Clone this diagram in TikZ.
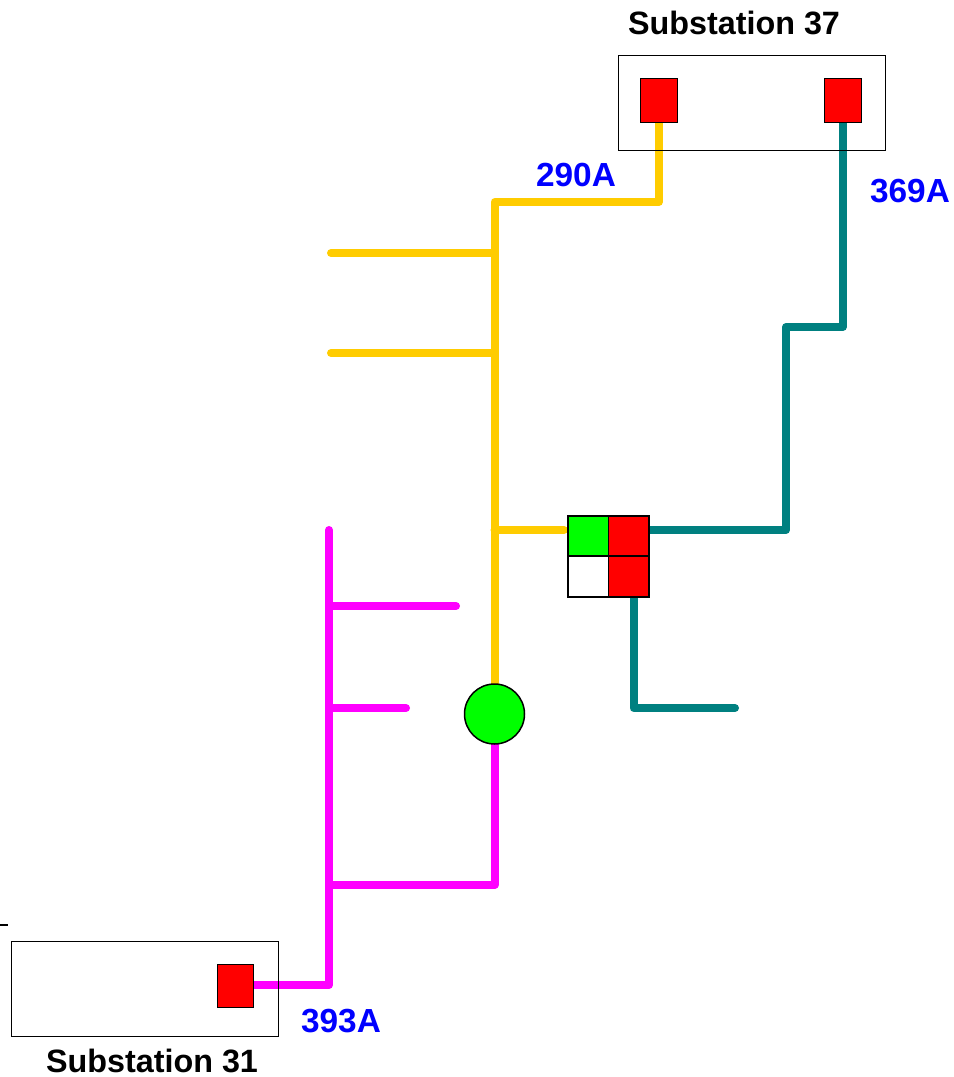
\documentclass[tikz,border=0pt]{standalone}
\usepackage{fontspec}
\setmainfont{Liberation Sans}
\usetikzlibrary{backgrounds}
\definecolor{feederyellow}{HTML}{FFCC00}
\definecolor{feederteal}{HTML}{008080}
\definecolor{feedermagenta}{HTML}{FF00FF}
\definecolor{swgreen}{HTML}{00FF00}
\definecolor{swred}{HTML}{FF0000}
\definecolor{amplabel}{HTML}{0000FF}
\tikzset{
	feeder/.style={line width=0.16cm, line cap=round, line join=round},
	station/.style={draw, line width=0.02cm, minimum width=5.35cm, minimum height=1.91cm, inner sep=0pt},
	breaker/.style={draw, line width=0.02cm, fill=swred, minimum width=0.73cm, minimum height=0.87cm, inner sep=0pt},
	cell/.style={draw, line width=0.03cm, minimum size=0.81cm, inner sep=0pt},
	title/.style={font=\fontsize{18.4}{20}\selectfont\bfseries},
	amps/.style={font=\fontsize{19}{20}\selectfont\bfseries, text=amplabel}
}
\begin{document}
\begin{tikzpicture}[x=0.02cm, y=-0.02cm]
	\useasboundingbox (0, 0) rectangle (953, 1077);

	\node[breaker] (b1) at (658.75, 100.5) {};
	\node[breaker] (b2) at (842.75, 100.5) {};
	\node[breaker] (b3) at (235.5, 986) {};
	\node[cell, fill=swgreen] (c1) at (588, 536) {};
	\node[cell, fill=swred] (c2) at (628.75, 536) {};
	\node[cell, fill=white] (c3) at (588, 576.5) {};
	\node[cell, fill=swred] (c4) at (628.75, 576.5) {};
	\node[circle, draw, line width=0.03cm, fill=swgreen, minimum size=1.2cm, inner sep=0pt] (tie) at (494.5, 714) {};

	% yellow feeder
	\coordinate (y1) at (658.75, 202);
	\coordinate (y2) at (494.5, 202);
	\coordinate (y3) at (494.5, 253);
	\coordinate (y4) at (494.5, 353);
	\coordinate (y5) at (494.5, 530);
	\coordinate (y6) at (331, 253);
	\coordinate (y7) at (331, 353);
	\coordinate (y8) at (564, 530);
	% teal feeder
	\coordinate (t1) at (842.75, 327);
	\coordinate (t2) at (786, 327);
	\coordinate (t3) at (786, 530);
	\coordinate (t4) at (633.5, 708);
	\coordinate (t5) at (735, 708);
	\coordinate (t6) at (633.5, 576.5);
	% magenta feeder
	\coordinate (m1) at (494.5, 885);
	\coordinate (m2) at (329, 885);
	\coordinate (m3) at (329, 530);
	\coordinate (m4) at (329, 985);
	\coordinate (m5) at (329, 606);
	\coordinate (m6) at (456, 606);
	\coordinate (m7) at (329, 708);
	\coordinate (m8) at (406, 708);

	\begin{pgfonlayer}{background}
		\draw[feeder, feederyellow] (b1) -- (y1) -- (y2) -- (tie);
		\draw[feeder, feederyellow] (y3) -- (y6);
		\draw[feeder, feederyellow] (y4) -- (y7);
		\draw[feeder, feederyellow] (y5) -- (y8);

		\draw[feeder, feederteal] (b2) -- (t1) -- (t2) -- (t3) -- (c2.center |- t3);
		\draw[feeder, feederteal] (t6) -- (t4) -- (t5);

		\draw[feeder, feedermagenta] (tie) -- (m1) -- (m2);
		\draw[feeder, feedermagenta] (m3) -- (m4) -- (b3 |- m4);
		\draw[feeder, feedermagenta] (m5) -- (m6);
		\draw[feeder, feedermagenta] (m7) -- (m8);
	\end{pgfonlayer}

	\node[station] (s37) at (752.25, 103.25) {};
	\node[station] (s31) at (145.25, 989) {};

	\node[title] (t37) at (734, 23) {Substation 37};
	\node[title] (t31) at (152, 1061) {Substation 31};
	\node[amps] (a290) at (576, 175) {290A};
	\node[amps] (a369) at (910, 191) {369A};
	\node[amps] (a393) at (341, 1021) {393A};

	\coordinate (d1) at (0, 925);
	\coordinate (d2) at (8, 925);
	\draw[line width=0.03cm] (d1) -- (d2);
\end{tikzpicture}
\end{document}
